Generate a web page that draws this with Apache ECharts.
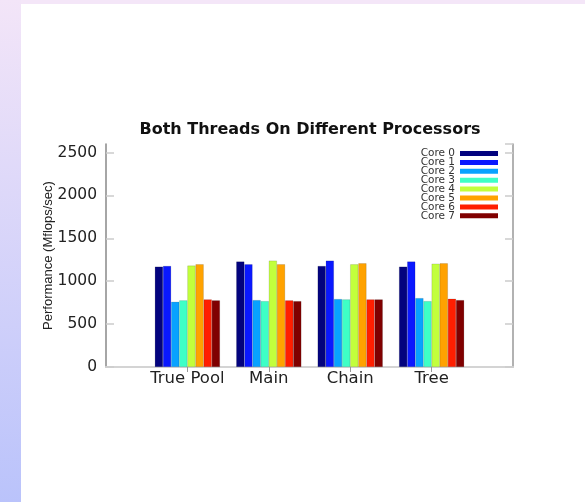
<!DOCTYPE html>
<html>
<head>
<meta charset="utf-8">
<script src="https://cdn.jsdelivr.net/npm/echarts@6/dist/echarts.min.js"></script>
<style>
  html, body { margin: 0; padding: 0; }
  body { width: 585px; height: 502px; position: relative; background: #fff; overflow: hidden; }
  #topband { position: absolute; left: 0; top: 0; width: 585px; height: 4px; background: #f4e6f8; }
  #strip { position: absolute; left: 0; top: 0; width: 21px; height: 502px;
           background: linear-gradient(to bottom, #f3e5f8, #bac3fb); }
  #main { position: absolute; left: 0; top: 0; width: 585px; height: 502px; }
</style>
</head>
<body>
<div id="topband"></div>
<div id="strip"></div>
<div id="main"></div>
<script>
// categories (first and last are empty slots for the x range padding)
var categories = ['', 'True Pool', 'Main', 'Chain', 'Tree', ' '];
var coreNames = ['Core 0', 'Core 1', 'Core 2', 'Core 3', 'Core 4', 'Core 5', 'Core 6', 'Core 7'];
var coreColors = ['#03037e', '#0a18ff', '#08a2ff', '#3effc6', '#c2ff3c', '#ffa200', '#ff1e00', '#800000'];
// values per core: True Pool, Main, Chain, Tree
var core0 = [1170, 1229, 1178, 1170];
var core1 = [1178, 1198, 1240, 1229];
var core2 = [760, 780, 792, 803];
var core3 = [777, 768, 788, 768];
var core4 = [1182, 1240, 1197, 1205];
var core5 = [1198, 1198, 1209, 1209];
var core6 = [788, 777, 788, 796];
var core7 = [777, 768, 788, 780];
var yTicks = [0, 500, 1000, 1500, 2000, 2500];

var coreData = [core0, core1, core2, core3, core4, core5, core6, core7];

var chart = echarts.init(document.getElementById('main'));

var series = [];
for (var i = 0; i < coreData.length; i++) {
    series.push({
        name: coreNames[i],
        type: 'bar',
        data: ['-'].concat(coreData[i]).concat(['-']),
        barGap: '0%',
        barCategoryGap: '20%',
        itemStyle: {
            color: coreColors[i],
            borderColor: 'rgba(0,0,0,0.25)',
            borderWidth: 0.5
        }
    });
}

var option = {
    animation: false,
    backgroundColor: 'transparent',
    color: coreColors,
    title: {
        text: 'Both Threads On Different Processors',
        left: 310,
        top: 122,
        padding: 0,
        textAlign: 'center',
        textStyle: {
            fontFamily: 'DejaVu Sans',
            fontWeight: 'bold',
            fontSize: 16,
            color: '#111'
        }
    },
    legend: {
        orient: 'vertical',
        right: 87,
        top: 148,
        padding: 0,
        align: 'right',
        icon: 'rect',
        itemWidth: 38,
        itemHeight: 5,
        itemGap: -2.1,
        data: coreNames,
        itemStyle: { borderWidth: 0 },
        textStyle: {
            fontFamily: 'DejaVu Sans',
            fontSize: 10.5,
            color: '#333'
        }
    },
    grid: {
        left: 106,
        right: 72,
        top: 144,
        bottom: 135
    },
    xAxis: [{
        type: 'category',
        data: categories,
        boundaryGap: false,
        position: 'bottom',
        axisLine: { lineStyle: { color: '#c8c8c8', width: 2 } },
        axisTick: { show: false },
        axisLabel: {
            margin: 3,
            fontFamily: 'DejaVu Sans',
            fontSize: 16.5,
            color: '#222',
            interval: 0
        }
    }, {
        type: 'category',
        data: categories,
        boundaryGap: false,
        position: 'top',
        axisLine: { lineStyle: { color: '#d8d8d8', width: 1.5 } },
        axisTick: {
            inside: true,
            length: 5,
            lineStyle: { color: '#999' },
            interval: function (idx) { return idx >= 1 && idx <= 4; }
        },
        axisLabel: { show: false }
    }],
    yAxis: [{
        type: 'value',
        min: 0,
        max: 2600,
        interval: 500,
        position: 'left',
        name: 'Performance (Mflops/sec)',
        nameLocation: 'middle',
        nameGap: 51,
        nameMoveOverlap: false,
        nameTextStyle: {
            fontFamily: 'Liberation Sans',
            fontSize: 13,
            color: '#222'
        },
        axisLine: { show: true, lineStyle: { color: '#888', width: 1.5 } },
        axisTick: { show: true, inside: true, length: 8, lineStyle: { color: '#ccc', width: 1.5 } },
        splitLine: { show: false },
        axisLabel: {
            showMaxLabel: false,
            margin: 9,
            fontFamily: 'DejaVu Sans',
            fontSize: 15.5,
            color: '#222',
            formatter: function (v) { return yTicks.indexOf(v) >= 0 ? String(v) : ''; }
        }
    }, {
        type: 'value',
        min: 0,
        max: 2600,
        interval: 500,
        position: 'right',
        axisLine: { show: true, lineStyle: { color: '#999', width: 1.5 } },
        axisTick: { show: true, inside: true, length: 8, lineStyle: { color: '#ccc', width: 1.5 } },
        splitLine: { show: false },
        axisLabel: { show: false }
    }],
    series: series
};

chart.setOption(option);
</script>
</body>
</html>
